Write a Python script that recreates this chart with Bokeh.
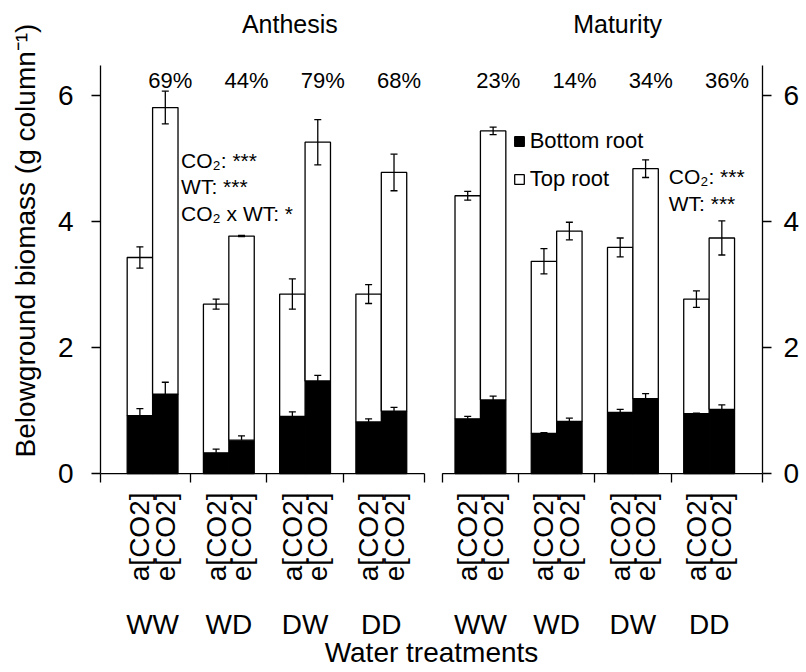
import math
from bokeh.plotting import figure
from bokeh.models import (ColumnDataSource, FixedTicker, LinearAxis, Range1d, Whisker,
                          TeeHead, Legend, LegendItem)
from bokeh.core.properties import value
from bokeh.embed import file_html
from bokeh.resources import INLINE

# ---------------- data ----------------
stages = ["Anthesis", "Maturity"]
water = ["WW", "WD", "DW", "DD"]
co2 = ["a[CO2]", "e[CO2]"]

# order: stage -> water treatment -> CO2 level
bottom_root = [0.92, 1.26, 0.33, 0.53, 0.91, 1.47, 0.82, 0.99,
               0.87, 1.17, 0.64, 0.83, 0.97, 1.19, 0.95, 1.02]
top_root = [2.51, 4.55, 2.36, 3.24, 1.94, 3.79, 2.03, 3.79,
            3.54, 4.27, 2.73, 3.02, 2.62, 3.65, 1.82, 2.72]
total_se = [0.17, 0.26, 0.08, 0.01, 0.24, 0.36, 0.15, 0.29,
            0.07, 0.06, 0.20, 0.14, 0.15, 0.14, 0.13, 0.27]
bottom_se = [0.11, 0.19, 0.06, 0.07, 0.07, 0.09, 0.05, 0.06,
             0.04, 0.06, 0.01, 0.05, 0.05, 0.08, 0.01, 0.07]
pct_increase = ["69%", "44%", "79%", "68%", "23%", "14%", "34%", "36%"]
stats_anthesis = ["CO\u2082: ***", "WT: ***", "CO\u2082 x WT: *"]
stats_maturity = ["CO\u2082: ***", "WT: ***"]
y_ticks = [0, 2, 4, 6]

# ---------------- layout constants ----------------
FONT = "Liberation Sans"
BAR_W = 1.0
GROUP_STEP = 3.0
PANEL_OFFSET = 12.9
X_START, X_END = -2.05, 24.0
Y_AXIS_TOP = 6.48

group_centers = [s * PANEL_OFFSET + g * GROUP_STEP
                 for s in range(len(stages)) for g in range(len(water))]
bar_x = [gc + (k - 0.5) * BAR_W for gc in group_centers for k in range(len(co2))]
bar_lab = [c for _ in group_centers for c in co2]
grp_lab = [w for _ in stages for w in water]

panel_start = [X_START + 0.01, group_centers[4] - 1.5]
panel_end = [group_centers[3] + 1.7, X_END - 0.01]
boundaries = [panel_start[0]] + [gc + 1.5 for gc in group_centers[0:3]] + [panel_end[0]] + \
             [panel_start[1]] + [gc + 1.5 for gc in group_centers[4:7]] + [panel_end[1]]

stack_top = [b + t for b, t in zip(bottom_root, top_root)]

src = ColumnDataSource(dict(
    x=bar_x, bottom=bottom_root, top=stack_top,
    tot_lo=[t - e for t, e in zip(stack_top, total_se)],
    tot_hi=[t + e for t, e in zip(stack_top, total_se)],
    bot_hi=[b + e for b, e in zip(bottom_root, bottom_se)],
))

p = figure(width=806, height=672, output_backend="svg", toolbar_location=None,
           x_range=Range1d(X_START, X_END), y_range=Range1d(-0.03, 7.43),
           min_border_left=100, min_border_right=44, min_border_top=5, min_border_bottom=197)
p.xgrid.visible = False
p.ygrid.visible = False
p.outline_line_color = None
p.background_fill_color = "white"
p.border_fill_color = "white"

LW = 1.3

# bars
r_bot = p.vbar(x="x", width=BAR_W, bottom=0, top="bottom", source=src,
               fill_color="black", line_color="black", line_width=LW)
r_top = p.vbar(x="x", width=BAR_W, bottom="bottom", top="top", source=src,
               fill_color="white", line_color="black", line_width=LW)

# baseline per panel
p.segment(x0=panel_start, x1=panel_end, y0=[0, 0], y1=[0, 0], line_color="black", line_width=LW)

# error bars
p.add_layout(Whisker(source=src, base="x", lower="tot_lo", upper="tot_hi", level="annotation",
                     line_color="black", line_width=LW,
                     upper_head=TeeHead(size=7, line_width=LW, line_color="black"),
                     lower_head=TeeHead(size=7, line_width=LW, line_color="black")))
p.add_layout(Whisker(source=src, base="x", lower="bottom", upper="bot_hi", level="annotation",
                     line_color="black", line_width=LW,
                     upper_head=TeeHead(size=7, line_width=LW, line_color="black"),
                     lower_head=None))

# percent labels above groups
p.text(x=[gc + 0.7 for gc in group_centers], y=[6.24] * len(group_centers), text=pct_increase,
       text_align="center", text_baseline="middle", text_font=value(FONT),
       text_font_size="22px", text_color="black")

# statistics text
p.text(x=[1.12] * 3, y=[4.97, 4.55, 4.13], text=stats_anthesis, text_align="left",
       text_baseline="alphabetic", text_font=value(FONT), text_font_size="21px", text_color="black")
p.text(x=[20.31] * 2, y=[4.72, 4.29], text=stats_maturity, text_align="left",
       text_baseline="alphabetic", text_font=value(FONT), text_font_size="21px", text_color="black")

# stage titles
title_x = [(group_centers[4 * i] + group_centers[4 * i + 3]) / 2 + 0.9 for i in range(len(stages))]
p.text(x=title_x, y=[7.13] * len(stages), text=stages, text_align="center", text_baseline="middle",
       text_font=value(FONT), text_font_size="25px", text_color="black")

# legend
legend = Legend(items=[LegendItem(label="Bottom root", renderers=[r_bot]),
                       LegendItem(label="Top root", renderers=[r_top])],
                location=(412.7, 283.0), glyph_width=12, glyph_height=12,
                label_text_font=FONT, label_text_font_size="22px", label_standoff=5,
                label_text_color="black",
                label_height=25, spacing=12, padding=0, margin=0,
                border_line_color=None, background_fill_alpha=0)
p.add_layout(legend)

# y axes
def style_y(ax):
    ax.ticker = FixedTicker(ticks=y_ticks, minor_ticks=[])
    ax.bounds = (0, Y_AXIS_TOP)
    ax.major_tick_out = 9
    ax.major_tick_in = 0
    ax.minor_tick_line_color = None
    ax.axis_line_width = LW
    ax.major_tick_line_width = LW
    ax.major_label_text_font = FONT
    ax.major_label_text_font_size = "28px"
    ax.major_label_text_color = "black"
    ax.axis_line_color = "black"
    ax.major_tick_line_color = "black"

yl = p.yaxis[0]
style_y(yl)
yl.major_label_standoff = 18
yl.axis_label = "Belowground biomass (g column\u207b\u00b9)"
yl.axis_label_text_font = FONT
yl.axis_label_text_font_size = "28px"
yl.axis_label_text_font_style = "normal"
yl.axis_label_text_color = "black"
yl.axis_label_standoff = 14

yr = LinearAxis()
style_y(yr)
yr.major_label_standoff = 12
p.add_layout(yr, "right")

# x axis: CO2 labels + boundary ticks
xa = p.xaxis[0]
xa.ticker = FixedTicker(ticks=bar_x, minor_ticks=boundaries)
xa.major_label_overrides = {x: lab for x, lab in zip(bar_x, bar_lab)}
xa.major_label_orientation = math.pi / 2
xa.major_tick_out = 0
xa.major_tick_in = 0
xa.major_tick_line_color = None
xa.minor_tick_out = 7
xa.minor_tick_in = 2
xa.minor_tick_line_width = LW
xa.minor_tick_line_color = "black"
xa.axis_line_color = None
xa.major_label_standoff = 10
xa.major_label_text_font = FONT
xa.major_label_text_font_size = "28px"
xa.major_label_text_color = "black"

# x axis: water treatment labels
xb = LinearAxis(ticker=FixedTicker(ticks=group_centers, minor_ticks=[]))
xb.major_label_overrides = {x: lab for x, lab in zip(group_centers, grp_lab)}
xb.axis_line_color = None
xb.major_tick_line_color = None
xb.minor_tick_line_color = None
xb.major_tick_out = 0
xb.major_label_standoff = 24
xb.major_label_text_font = FONT
xb.major_label_text_font_size = "28px"
xb.major_label_text_color = "black"
xb.axis_label = "Water treatments"
xb.axis_label_text_font = FONT
xb.axis_label_text_font_size = "28px"
xb.axis_label_text_font_style = "normal"
xb.axis_label_text_color = "black"
xb.axis_label_standoff = -6
p.add_layout(xb, "below")

open("out.html", "w").write(file_html(p, INLINE))
